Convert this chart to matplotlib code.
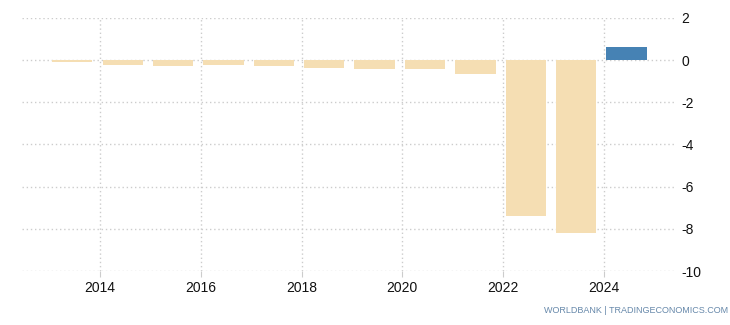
import matplotlib.pyplot as plt

# values
years = [2013, 2014, 2015, 2016, 2017, 2018, 2019, 2020, 2021, 2022, 2023, 2024]
values = [-0.1, -0.24, -0.29, -0.24, -0.29, -0.38, -0.42, -0.42, -0.65, -7.4, -8.2, 0.6]
y_ticks = [2, 0, -2, -4, -6, -8, -10]
x_ticks = [2014, 2016, 2018, 2020, 2022, 2024]

plt.rcParams['font.family'] = ['Liberation Sans', 'DejaVu Sans']
plt.rcParams['axes.unicode_minus'] = False

fig = plt.figure(figsize=(7.3, 3.25), dpi=100)
ax = fig.add_axes([0.030, 0.166, 0.896, 0.779])

colors = ['#4682b4' if v > 0 else '#f5deb3' for v in values]
ax.bar([y + 0.45 for y in years], values, width=0.8, color=colors, zorder=2)

ax.set_xlim(2012.45, 2025.43)
ax.set_ylim(-10, 2)
ax.set_xticks(x_ticks)
ax.set_yticks(y_ticks)

ax.yaxis.tick_right()
ax.tick_params(axis='y', length=0, pad=4, labelsize=10, labelcolor='#111111')
ax.tick_params(axis='x', length=4, color='#cccccc', labelsize=10, pad=3, labelcolor='#111111')
ax.grid(True, color='#cccccc', linestyle=(0, (1, 2)), linewidth=1, zorder=0)
for s in ax.spines.values():
    s.set_visible(False)

fig.text(0.997, 0.045, 'WORLDBANK | TRADINGECONOMICS.COM', ha='right', va='center',
         fontsize=6.5, color='#6688aa')

fig.savefig('out.png', dpi=100)
